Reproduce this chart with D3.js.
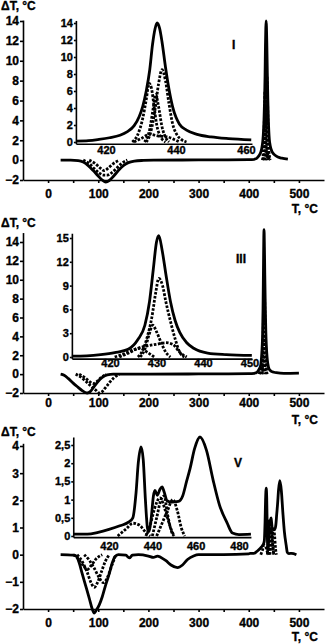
<!DOCTYPE html>
<html>
<head>
<meta charset="utf-8">
<script src="https://cdn.jsdelivr.net/npm/d3@7"></script>
<style>
  body { margin: 0; background: #fff; }
  svg text { font-family: "Liberation Sans", Arial, sans-serif; font-weight: bold; fill: #000; stroke: #000; stroke-width: 0.35; }
  .axis path, .axis line { stroke: #000; stroke-width: 1.6; }
  .curve { fill: none; stroke: #000; stroke-width: 2.8; stroke-linejoin: round; }
  .dash { stroke-dasharray: 2.6, 1.5; }
</style>
</head>
<body>
<svg id="chart" width="325" height="644"></svg>
<script>
// ---- data (T in °C, ΔT in °C) ----
const xTickVals = [0, 50, 100, 150, 200, 250, 300, 350, 400, 450, 500];
const xTickLabels = [0, 100, 200, 300, 400, 500];

// panel I
const p1YTicks = [-2, 0, 2, 4, 6, 8, 10, 12, 14];
const p1InsetYTicks = [0, 2, 4, 6, 8, 10, 12, 14];
const p1InsetXTicks = [420, 440, 460];
const p1EndoSolid = [[25,0],[45,0],[60,-0.05],[70,-0.2],[80,-0.55],[90,-1.05],[100,-1.6],[108,-2.0],[115,-2.2],[122,-2.05],[130,-1.65],[140,-1.05],[150,-0.55],[160,-0.25],[172,-0.1],[190,-0.03],[210,0],[300,0.02],[400,0.05],[411,0.08]];
const p1EndoDash1 = [[70,0],[82,-0.35],[92,-0.85],[102,-1.3],[110,-1.5],[118,-1.5],[126,-1.3],[136,-0.85],[146,-0.35],[158,0]];
const p1EndoDash2 = [[82,0],[94,-0.35],[104,-0.8],[112,-1.05],[120,-0.8],[130,-0.35],[142,0]];
const p1PeakSolid = [[411.5,0.1],[415,0.15],[418,0.3],[421,0.5],[424,0.8],[426,1.2],[428,1.9],[429.5,3],[430.5,4.2],[431.5,6],[432.5,8.5],[433.3,11.5],[434,13.3],[434.6,14],[435.3,13.4],[436,11.8],[437,8.8],[438,6.2],[439,4.2],[440,2.9],[441,2.1],[443,1.4],[446,0.9],[450,0.6],[455,0.4],[461.5,0.25]];
const p1PeakDashA = [[427.5,0],[429,0.8],[430.5,2.8],[431.5,5],[432.3,6.9],[433,6.3],[433.8,4],[434.5,2],[435.5,0.7],[437,0]];
const p1PeakDashB = [[431.5,0],[432.8,1.2],[434,3.8],[435,6.8],[436,8.5],[437,7.2],[438,4.5],[439,2.2],[440.2,0.9],[441.5,0.3],[443,0]];
const p1PeakDashC = [[431,0],[432.5,1.5],[433.5,4],[434.2,5.6],[435,4.2],[436,1.8],[437.2,0.4],[438,0]];
const p1PeakDashD = [[428,0],[430,0.4],[432.5,0.9],[435,0.7],[437.5,0.6],[439.5,0.3],[441,0]];
const p1Tail = [[466,0.2],[478,0.1]];

// panel III
const p2YTicks = [-2, 0, 2, 4, 6, 8, 10, 12, 14];
const p2InsetYTicks = [0, 3, 6, 9, 12, 15];
const p2InsetXTicks = [420, 430, 440, 450];
const p2EndoSolid = [[25,0],[32,-0.12],[40,-0.45],[50,-0.95],[60,-1.4],[68,-1.75],[74,-1.95],[78,-2.0],[84,-1.85],[92,-1.3],[100,-0.75],[108,-0.35],[118,-0.08],[130,0],[200,0],[300,0.02],[400,0.05],[411,0.08]];
const p2EndoDash1 = [[55,0],[65,-0.3],[75,-0.75],[85,-1.25],[95,-1.7],[102,-2.0],[108,-1.85],[115,-1.4],[123,-0.85],[132,-0.35],[142,0]];
const p2EndoDash2 = [[62,0],[74,-0.4],[84,-0.85],[90,-1.0],[97,-0.8],[106,-0.35],[116,0]];
const p2PeakSolid = [[411.8,0.1],[415,0.15],[418,0.3],[421,0.55],[424,1],[426,2.2],[427.5,4],[428.5,7],[429.3,11],[430,14.5],[430.5,15.3],[431.2,13.5],[432,10.5],[433,7],[434,4.6],[435,3.1],[436.5,1.8],[438,1.1],[441,0.5],[445,0.3],[450.5,0.2]];
const p2PeakDashA = [[426,0],[427,0.8],[428,2.5],[429,5],[429.8,8],[430.5,9.9],[431.3,9],[432,7],[433,4.5],[434,2.3],[435,0.6],[436,0]];
const p2PeakDashB = [[426.5,0],[427.5,1],[428.4,2.8],[429.2,4],[430,3.2],[431,1.8],[432,0.6],[433,0]];
const p2PeakDashC = [[422,0],[424,0.5],[426,1.1],[428,1.4],[430,1.6],[432,1.8],[433.5,1.6],[435,0.6],[436.5,0]];
const p2PeakDashD = [[421,0],[423,0.4],[425,0.9],[426.5,1.1],[428,0.6],[429.5,0]];
const p2Tail = [[455,0.15],[470,0.08],[500,0.1]];

// panel V
const p3YTicks = [-2, -1, 0, 1, 2, 3, 4];
const p3InsetYTicks = [0, 0.5, 1, 1.5, 2, 2.5];
const p3InsetYLabels = ["0", "0,5", "1", "1,5", "2", "2,5"];
const p3InsetXTicks = [420, 440, 460, 480];
const p3EndoSolid = [[25,0],[50,-0.02],[56,-0.05],[62,-0.3],[68,-0.7],[75,-1.15],[82,-1.6],[88,-2.0],[92,-2.15],[96,-2.05],[102,-1.85],[108,-1.55],[115,-1.1],[122,-0.7],[128,-0.3],[133,-0.08],[140,0],[155,-0.02],[162,-0.12],[168,-0.02],[180,0],[200,-0.05],[210,-0.1],[218,-0.05],[225,-0.1],[235,-0.22],[245,-0.38],[258,-0.48],[268,-0.38],[278,-0.18],[290,-0.05],[300,0],[350,0],[400,0.03]];
const p3EndoDash1 = [[58,0],[68,-0.25],[78,-0.65],[86,-1.05],[92,-1.2],[98,-1.05],[106,-0.65],[114,-0.25],[122,0]];
const p3EndoDash2 = [[72,0],[82,-0.2],[92,-0.5],[102,-0.85],[110,-1.03],[118,-0.85],[126,-0.45],[135,0]];
const p3EndoDash3 = [[50,0],[60,-0.15],[70,-0.4],[78,-0.55],[86,-0.4],[96,-0.15],[108,0]];
const p3PeakSolid = [[403.5,0.05],[410,0.05],[415,0.1],[420,0.18],[425,0.28],[429,0.38],[431,0.5],[432.5,1.2],[433.5,2],[434.8,2.45],[435.8,2.1],[436.8,1.0],[437.8,0.2],[438.5,0.12],[439.5,0.5],[440.5,1.1],[441.2,1.25],[442.3,1.12],[443.5,1.28],[444.5,1.35],[445.5,1.2],[446.8,0.97],[449,0.93],[452,0.95],[454,1.1],[455.8,1.5],[457.4,1.85],[459.5,2.4],[462,2.72],[465,2.35],[468,1.55],[471,0.85],[474.5,0.36],[477,0.08],[480,0.04],[485.5,0.05]];
const p3PeakDashA = [[424,0],[428,0.2],[431,0.35],[434,0.3],[437,0.1],[439,0]];
const p3PeakDashB = [[437,0],[439,0.3],[441,0.75],[443.5,1.05],[446,0.7],[448,0.3],[450,0]];
const p3PeakDashC = [[442,0],[444.5,0.35],[447,0.7],[449.5,1.0],[451.5,0.7],[453.5,0.2],[455,0]];
const p3PeakDashD = [[440,0],[442,0.5],[444,1.0],[445.5,1.1],[447,0.6],[449,0.1],[450,0]];
const p3Tail = [[495,0]];

// ---- drawing ----
const svg = d3.select("#chart");

// linear scale calibrated from two read-off pixel positions
function calib(v0, v1, p0, p1, lo, hi) {
    const k = (p1 - p0) / (v1 - v0);
    return d3.scaleLinear().domain([lo, hi]).range([p0 + (lo - v0) * k, p0 + (hi - v0) * k]);
}

const x = d3.scaleLinear().domain([-50, 550]).range([23, 324]);

const panels = [
    { roman: "I", y: calib(-2, 14, 180, 21, -2, 14.1), yTicks: p1YTicks, xPad: 6,
      dtY: 10, tY: 213, romanX: 232, romanY: 49,
      endoSolid: p1EndoSolid, endoDash: [p1EndoDash1, p1EndoDash2],
      peakSolid: p1PeakSolid, peakDash: [p1PeakDashA, p1PeakDashB, p1PeakDashC, p1PeakDashD], tail: p1Tail,
      ix: calib(420, 440, 106, 176, 411.4, 461.7), iy: calib(0, 14, 142, 23, -0.2, 14.3),
      ixTicks: p1InsetXTicks, iyTicks: p1InsetYTicks, iyLabels: null, ixPad: 3 },
    { roman: "III", y: calib(-2, 14, 393, 242, -2, 15), yTicks: p2YTicks, xPad: 2,
      dtY: 227, tY: 424, romanX: 236, romanY: 263,
      endoSolid: p2EndoSolid, endoDash: [p2EndoDash1, p2EndoDash2],
      peakSolid: p2PeakSolid, peakDash: [p2PeakDashA, p2PeakDashB, p2PeakDashC, p2PeakDashD], tail: p2Tail,
      ix: calib(420, 440, 110, 203, 411.8, 450.5), iy: calib(0, 15, 357, 238, -0.2, 15.6),
      ixTicks: p2InsetXTicks, iyTicks: p2InsetYTicks, iyLabels: null, ixPad: 1 },
    { roman: "V", y: calib(-2, 4, 609, 446, -2, 4.1), yTicks: p3YTicks, xPad: 6,
      dtY: 436, tY: 641, romanX: 234, romanY: 467,
      endoSolid: p3EndoSolid, endoDash: [p3EndoDash1, p3EndoDash2, p3EndoDash3],
      peakSolid: p3PeakSolid, peakDash: [p3PeakDashA, p3PeakDashB, p3PeakDashC, p3PeakDashD], tail: p3Tail,
      ix: calib(420, 480, 109, 239, 403.5, 485.5), iy: calib(0, 2.5, 536, 445, -0.03, 2.72),
      ixTicks: p3InsetXTicks, iyTicks: p3InsetYTicks, iyLabels: p3InsetYLabels, ixPad: 5 }
];

panels.forEach(p => {
    const g = svg.append("g");
    const y = p.y;

    // main axes
    g.append("g").attr("class", "axis")
        .attr("transform", `translate(0,${y.range()[0]})`)
        .call(d3.axisBottom(x).tickValues(xTickVals).tickSize(3).tickSizeOuter(0).tickPadding(p.xPad)
            .tickFormat(d => xTickLabels.includes(d) ? d : ""))
        .selectAll("text").attr("font-size", 12);

    g.append("g").attr("class", "axis")
        .attr("transform", `translate(${x.range()[0]},0)`)
        .call(d3.axisLeft(y).tickValues(p.yTicks).tickSize(3).tickSizeOuter(0).tickPadding(1)
            .tickFormat(d3.format("d")))
        .selectAll("text").attr("font-size", 12);

    g.append("text").attr("x", 1).attr("y", p.dtY).attr("font-size", 12).text("ΔT, °C");
    g.append("text").attr("x", 318).attr("y", p.tY).attr("font-size", 12)
        .attr("text-anchor", "end").text("T, °C");
    g.append("text").attr("x", p.romanX).attr("y", p.romanY).attr("font-size", 12)
        .attr("font-family", "Liberation Serif, serif").text(p.roman);

    // main curves
    const line = d3.line().x(d => x(d[0])).y(d => y(d[1])).curve(d3.curveMonotoneX);
    const mainSolid = [...p.endoSolid, ...p.peakSolid, ...p.tail];
    [...p.endoDash, ...p.peakDash].forEach(arr => {
        g.append("path").attr("class", "curve dash").attr("d", line(arr));
    });
    g.append("path").attr("class", "curve").attr("d", line(mainSolid));

    // inset
    const ix = p.ix, iy = p.iy;
    g.append("g").attr("class", "axis")
        .attr("transform", `translate(0,${iy.range()[0]})`)
        .call(d3.axisBottom(ix).tickValues(p.ixTicks).tickSize(0).tickSizeOuter(0).tickPadding(p.ixPad))
        .selectAll("text").attr("font-size", 11);

    g.append("g").attr("class", "axis")
        .attr("transform", `translate(${ix.range()[0]},0)`)
        .call(d3.axisLeft(iy).tickValues(p.iyTicks).tickSize(2).tickSizeOuter(0).tickPadding(1)
            .tickFormat((d, i) => p.iyLabels ? p.iyLabels[i] : d))
        .selectAll("text").attr("font-size", 11);

    const iline = d3.line().x(d => ix(d[0])).y(d => iy(d[1])).curve(d3.curveMonotoneX);
    p.peakDash.forEach(arr => {
        g.append("path").attr("class", "curve dash").attr("d", iline(arr));
    });
    g.append("path").attr("class", "curve").attr("d", iline(p.peakSolid));
});
</script>
</body>
</html>
